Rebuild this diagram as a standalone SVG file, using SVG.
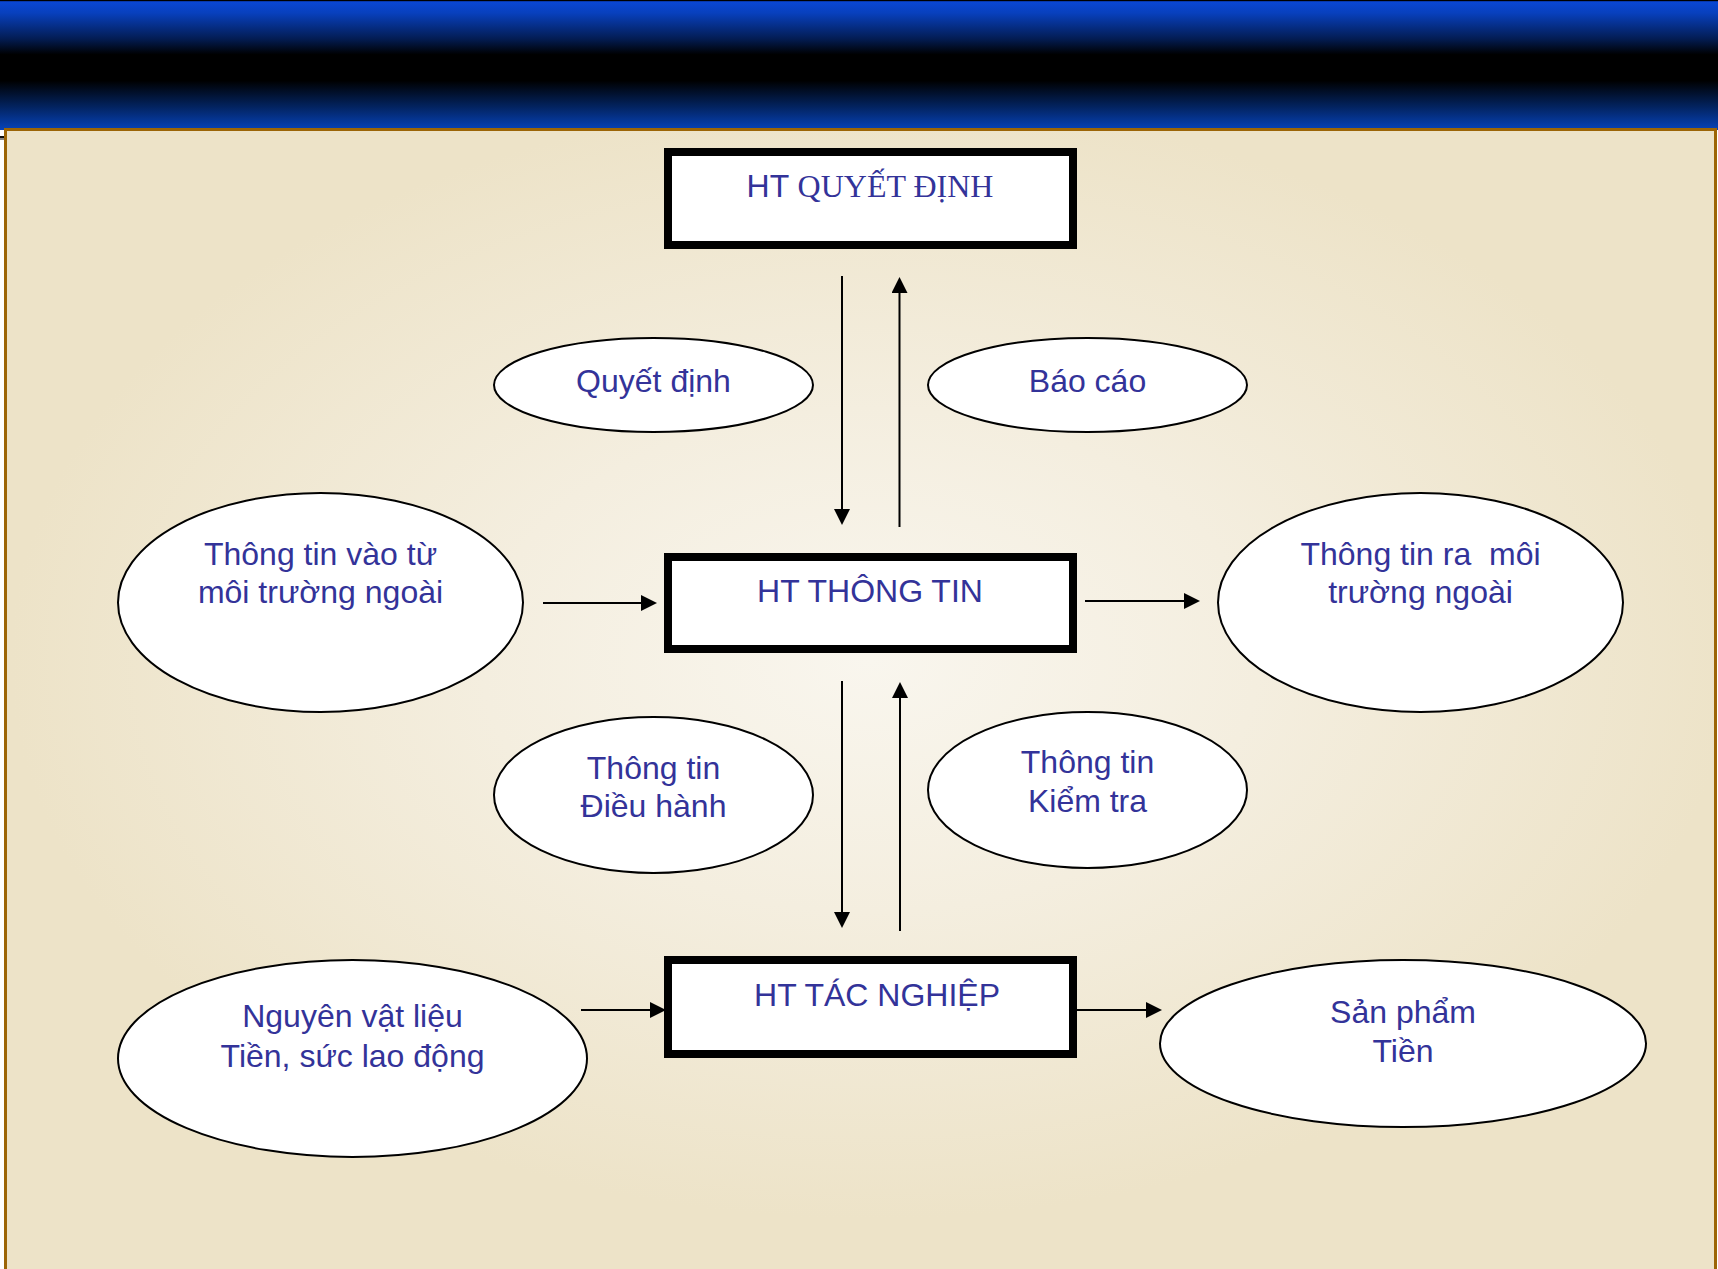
<svg xmlns="http://www.w3.org/2000/svg" width="1718" height="1269" viewBox="0 0 1718 1269">
<defs>
<linearGradient id="banner" x1="0" y1="0" x2="0" y2="130" gradientUnits="userSpaceOnUse">
<stop offset="0" stop-color="#0a48d8"/>
<stop offset="0.1" stop-color="#0840bd"/>
<stop offset="0.3" stop-color="#031c52"/>
<stop offset="0.42" stop-color="#000000"/>
<stop offset="0.62" stop-color="#000000"/>
<stop offset="0.82" stop-color="#03235f"/>
<stop offset="1" stop-color="#0743ba"/>
</linearGradient>
<radialGradient id="panel" gradientUnits="userSpaceOnUse" cx="870" cy="660" r="860" gradientTransform="translate(0 231) scale(1 0.65)">
<stop offset="0" stop-color="#f9f6ee"/>
<stop offset="0.45" stop-color="#f4eedf"/>
<stop offset="1" stop-color="#ede3c8"/>
</radialGradient>
<marker id="ah" viewBox="0 0 16 16" refX="6" refY="8" markerWidth="16" markerHeight="16" markerUnits="userSpaceOnUse" orient="auto">
<path d="M0,0 L16,8 L0,16 z" fill="#000"/>
</marker>
<style>
.box{fill:#fff;stroke:#000;stroke-width:8}
.ell{fill:#fff;stroke:#000;stroke-width:2}
.t{font-family:"Liberation Sans",Arial,sans-serif;font-size:32px;fill:#333399;text-anchor:middle}
.serif{font-family:"Liberation Serif","Times New Roman",serif}
.con line{stroke:#000;stroke-width:2;marker-end:url(#ah)}
</style>
</defs>
<rect x="0" y="0" width="1718" height="130" fill="url(#banner)"/>
<rect x="0" y="0" width="1718" height="1.2" fill="#000"/>
<rect x="0" y="136" width="5" height="2" fill="#111"/>
<rect x="0" y="138" width="5" height="2" fill="#888"/>
<rect x="5.5" y="129.5" width="1710" height="1200" fill="url(#panel)" stroke="#9c6506" stroke-width="3"/>

<g id="connectors" class="con">
<line x1="842" y1="276" x2="842" y2="515"/>
<line x1="899.5" y1="527" x2="899.5" y2="287"/>
<line x1="842" y1="681" x2="842" y2="918"/>
<line x1="900" y1="931" x2="900" y2="692"/>
<line x1="543" y1="603" x2="647" y2="603"/>
<line x1="1085" y1="601" x2="1190" y2="601"/>
<line x1="581" y1="1010" x2="656" y2="1010"/>
<line x1="1077" y1="1010" x2="1152" y2="1010"/>
</g>

<g id="ht-quyet-dinh">
<rect class="box" x="668" y="152" width="405" height="93"/>
<text class="t" x="870" y="197">HT <tspan class="serif">QUYẾT ĐỊNH</tspan></text>
</g>
<g id="ht-thong-tin">
<rect class="box" x="668" y="557" width="405" height="92"/>
<text class="t" x="870" y="602">HT THÔNG TIN</text>
</g>
<g id="ht-tac-nghiep">
<rect class="box" x="668" y="960" width="405" height="94"/>
<text class="t" x="877" y="1006">HT TÁC NGHIỆP</text>
</g>

<g id="quyet-dinh">
<ellipse class="ell" cx="653.5" cy="385" rx="159.5" ry="47"/>
<text class="t" x="653.5" y="392">Quyết định</text>
</g>
<g id="bao-cao">
<ellipse class="ell" cx="1087.5" cy="385" rx="159.5" ry="47"/>
<text class="t" x="1087.5" y="392">Báo cáo</text>
</g>
<g id="tt-vao">
<ellipse class="ell" cx="320.5" cy="602.5" rx="202.5" ry="109.5"/>
<text class="t" x="320.5" y="565">Thông tin vào từ</text>
<text class="t" x="320.5" y="603">môi trường ngoài</text>
</g>
<g id="tt-ra">
<ellipse class="ell" cx="1420.5" cy="602.5" rx="202.5" ry="109.5"/>
<text class="t" x="1420.5" y="565" xml:space="preserve">Thông tin ra  môi</text>
<text class="t" x="1420.5" y="603">trường ngoài</text>
</g>
<g id="tt-dieu-hanh">
<ellipse class="ell" cx="653.5" cy="795" rx="159.5" ry="78"/>
<text class="t" x="653.5" y="779">Thông tin</text>
<text class="t" x="653.5" y="817">Điều hành</text>
</g>
<g id="tt-kiem-tra">
<ellipse class="ell" cx="1087.5" cy="790" rx="159.5" ry="78"/>
<text class="t" x="1087.5" y="773">Thông tin</text>
<text class="t" x="1087.5" y="812">Kiểm tra</text>
</g>
<g id="nguyen-vat-lieu">
<ellipse class="ell" cx="352.5" cy="1058.5" rx="234.5" ry="98.5"/>
<text class="t" x="352.5" y="1027">Nguyên vật liệu</text>
<text class="t" x="352.5" y="1067">Tiền, sức lao động</text>
</g>
<g id="san-pham">
<ellipse class="ell" cx="1403" cy="1043.5" rx="243" ry="83.5"/>
<text class="t" x="1403" y="1023">Sản phẩm</text>
<text class="t" x="1403" y="1062">Tiền</text>
</g>
</svg>
